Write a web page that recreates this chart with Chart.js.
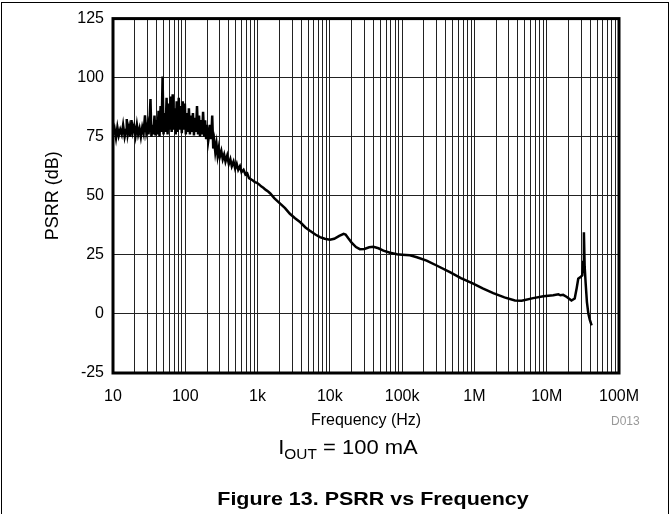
<!DOCTYPE html>
<html>
<head>
<meta charset="utf-8">
<script src="https://cdn.jsdelivr.net/npm/chart.js@4"></script>
<style>
  body { margin: 0; background: #fff; font-family: "Liberation Sans", Arial, sans-serif; }
  #wrap { position: relative; width: 670px; height: 514px; overflow: hidden; }
  #frame { position: absolute; left: 1px; top: 2px; width: 666px; height: 520px;
           border: 1px solid #000; }
  #myChart { position: absolute; left: 0; top: 0; }
  .note { position: absolute; white-space: nowrap; color: #000; line-height: 1; }
  #code { left: 611px; top: 415px; font-size: 12px; color: #999; }
  #cond { left: 0; width: 696px; text-align: center; top: 437px; font-size: 20px;
          transform: scaleX(1.1); transform-origin: 348px 0; }
  #cond sub { font-size: 14px; vertical-align: -5px; line-height: 1; }
  #caption { left: 0; width: 746px; text-align: center; top: 489px; font-size: 19px; font-weight: bold;
             transform: scaleX(1.13); transform-origin: 373px 0; }
</style>
</head>
<body>
<div id="wrap">
  <div id="frame"></div>
  <canvas id="myChart" width="670" height="514"></canvas>
  <div class="note" id="code">D013</div>
  <div class="note" id="cond">I<sub>OUT</sub> = 100 mA</div>
  <div class="note" id="caption">Figure 13. PSRR vs Frequency</div>
</div>
<script>
// values
const freqHz = [
  10, 10.5, 11, 11.5, 12, 12.6, 13.2, 13.8, 14.5, 15.2, 15.5, 16, 16.7, 17.4, 18, 18.8, 19.6,
  20.5, 21.4, 22.3, 23.3, 24.3, 25.4, 26.5, 27.7, 28.9, 30.2,
  31, 32, 33, 34, 35.2, 36.3, 37.5, 38.7, 40, 41.3, 42.7, 44, 45.5, 47, 48.5, 50, 51.7, 53.4,
  55.1, 56.9, 58.8, 60.7, 62.7, 64.8, 66.9, 69.1, 71.4, 73.7, 76.1, 78.6, 81.2, 83.9, 86.6,
  89.5, 92.4, 95.4, 98.6, 101.8, 105.1, 108.6, 112.2, 115.9, 119.7, 123.6, 127.6, 131.8,
  136.2, 140.6, 145.3, 150, 155, 160, 165.3, 170.7, 176.3, 182.1, 188.1, 194.3, 200.7, 207.3,
  214, 221, 228.3, 235.8, 243.6, 251.6,
  260, 270, 280, 290, 300, 315, 330, 345, 360, 380, 400, 420, 440, 465, 490, 515, 540, 570,
  600, 640, 680, 720, 760, 810, 860, 920, 980, 1050, 1120, 1200, 1300, 1400, 1500, 1700,
  2000, 2400, 2800, 3300, 3900, 4600, 5300, 6300, 7300, 8500, 10000, 11500, 13500, 15500,
  16500, 18000, 20000, 23000, 26000, 30000, 35000, 40000, 47000, 55000, 68000, 85000,
  100000, 128000, 160000, 218000, 300000, 458000, 650000, 962000, 1300000, 1820000, 2600000,
  3630000, 4500000, 6500000, 9000000, 12300000, 14500000, 15500000, 16900000, 19000000,
  22000000, 24400000, 26000000, 27300000, 29000000, 31000000, 32000000, 32700000, 33500000,
  34600000, 36000000, 37700000, 39500000, 41800000
];
const psrrDb = [
  76, 78.5, 74.5, 79, 75.5, 78, 76, 80, 75, 78, 82.5, 76, 79, 75, 82, 77, 79.5,
  75.5, 80, 76, 78.5, 75, 79, 76.5, 84, 77, 80,
  76, 81, 91, 75, 80, 76, 84, 75.5, 82, 76, 86, 75, 88, 77, 100.5, 76, 85, 77,
  91.5, 76, 89, 78, 92, 77, 93, 78, 87, 76, 90, 77, 91.5, 78, 88,
  76.5, 90, 78, 89, 76, 85, 77, 87, 76, 84, 77, 85, 75.5,
  83, 77, 88, 76, 84, 75, 82, 76, 85.5, 75, 82, 74, 80, 73,
  76, 80, 74, 84, 70, 73,
  68.5, 72, 67, 70, 66.5, 69, 65.5, 67.5, 64.5, 67, 63.5, 65.5, 62.5, 64.5, 61.5, 63.5, 61, 62.5,
  60, 61, 59, 59.5, 57.5, 57, 56.5, 55.8, 55.5, 54.8, 54, 53.4, 52.5, 51.8, 51, 49,
  47, 44.8, 42.4, 40.5, 38.8, 36.6, 35.2, 33.6, 32.5, 31.8, 31.4, 31.8, 33, 33.9,
  33.6, 32, 30.2, 28.3, 27.4, 27.5, 28.2, 28.4, 27.8, 26.8, 25.9, 25.3,
  25.1, 24.8, 24, 22.6, 20.5, 17.7, 15.2, 12.8, 10.8, 8.8, 7,
  5.7, 5.6, 6.7, 7.5, 7.9, 8.3, 7.9, 8.1, 7.2,
  5.7, 6.5, 11, 14.9, 15.5, 16.3, 22, 34.6, 20,
  12.8, 5, 0.1, -2.5, -4.8
];

const decadeTicks = [10, 100, 1e3, 1e4, 1e5, 1e6, 1e7, 1e8];
const decadeLabels = ["10", "100", "1k", "10k", "100k", "1M", "10M", "100M"];
const minorSteps = [2, 3, 4, 5, 6, 7, 8, 9];
const dbTicks = [-25, 0, 25, 50, 75, 100, 125];

const points = freqHz.map((f, i) => ({ x: f, y: psrrDb[i] }));

const gridTicks = [];
decadeTicks.forEach((d, i) => {
  gridTicks.push(d);
  if (i < decadeTicks.length - 1) minorSteps.forEach(m => gridTicks.push(d * m));
});

const frameBox = {
  id: "frameBox",
  afterDraw(chart) {
    const { ctx, chartArea: a } = chart;
    ctx.save();
    ctx.strokeStyle = "#000";
    ctx.lineWidth = 3;
    ctx.strokeRect(a.left, a.top, a.right - a.left, a.bottom - a.top);
    ctx.restore();
  }
};

const fontFam = "'Liberation Sans', Arial, sans-serif";

new Chart(document.getElementById("myChart").getContext("2d"), {
  type: "line",
  data: {
    datasets: [{
      data: points,
      borderColor: "#000",
      borderWidth: 2.5,
      pointRadius: 0,
      tension: 0,
      fill: false
    }]
  },
  options: {
    responsive: false,
    animation: false,
    events: [],
    layout: { padding: { top: 18, right: 51, left: 42, bottom: 84 } },
    plugins: { legend: { display: false }, tooltip: { enabled: false } },
    scales: {
      x: {
        type: "logarithmic",
        min: 10,
        max: 1e8,
        afterBuildTicks: (scale) => { scale.ticks = gridTicks.map(v => ({ value: v })); },
        afterFit: (scale) => { scale.height = 57; },
        ticks: {
          autoSkip: false,
          maxRotation: 0,
          padding: 14,
          color: "#000",
          font: { family: fontFam, size: 16 },
          callback: (v) => {
            const k = decadeTicks.indexOf(v);
            return k >= 0 ? decadeLabels[k] : "";
          }
        },
        grid: { color: "#222", lineWidth: 1, drawTicks: false },
        border: { display: false },
        title: {
          display: true,
          text: "Frequency (Hz)",
          color: "#000",
          font: { family: fontFam, size: 16 },
          padding: { top: 0, bottom: 0 }
        }
      },
      y: {
        min: -25,
        max: 125,
        afterBuildTicks: (scale) => { scale.ticks = dbTicks.map(v => ({ value: v })); },
        afterFit: (scale) => { scale.width = 71; },
        ticks: { padding: 9, color: "#000", font: { family: fontFam, size: 16 } },
        grid: { color: "#222", lineWidth: 1, drawTicks: false },
        border: { display: false },
        title: {
          display: true,
          text: "PSRR (dB)",
          color: "#000",
          font: { family: fontFam, size: 18 },
          padding: { top: 0, bottom: 0 }
        }
      }
    }
  },
  plugins: [frameBox]
});
</script>
</body>
</html>
